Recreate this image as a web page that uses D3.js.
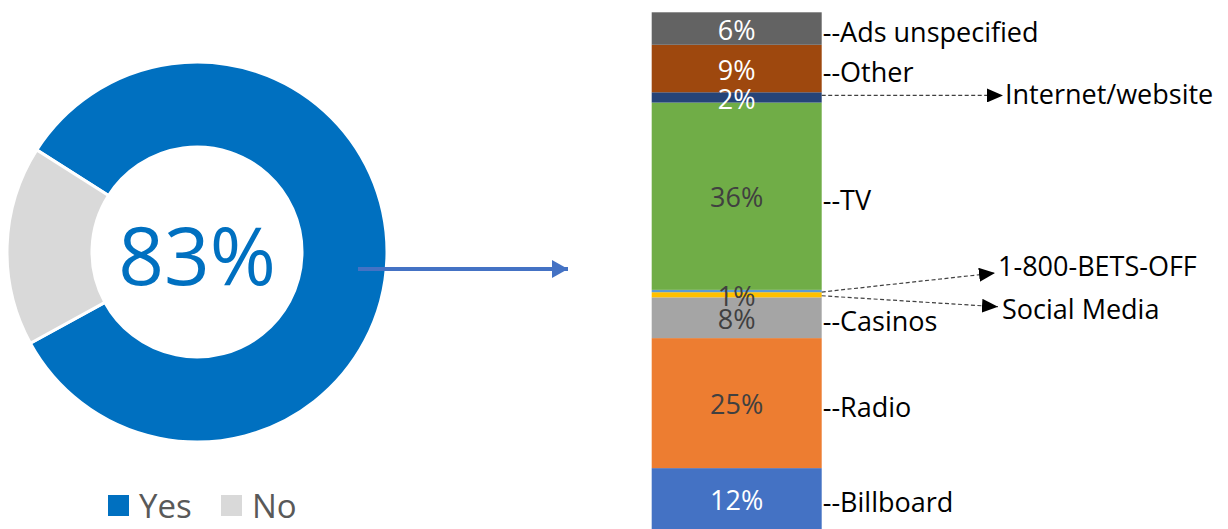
<!DOCTYPE html>
<html>
<head>
<meta charset="utf-8">
<script src="https://cdn.jsdelivr.net/npm/d3@7/dist/d3.min.js"></script>
<style>
  html, body { margin: 0; padding: 0; background: #ffffff; }
  svg { display: block; }
</style>
</head>
<body>
<svg id="chart" width="1228" height="529"></svg>
<script>
// ---------- DATA ----------
const donutCategories = ["Yes", "No"];
const donutValues = [83, 17];
const donutCenterLabel = "83%";

// stacked bar, bottom to top
const barCategories = ["Billboard", "Radio", "Casinos", "Social Media", "1-800-BETS-OFF", "TV", "Internet/website", "Other", "Ads unspecified"];
const barValues = [11.8, 25.2, 7.9, 1.0, 0.45, 36.3, 2.0, 9.2, 6.3];
const barValueLabels = ["12%", "25%", "8%", "1%", "", "36%", "2%", "9%", "6%"];
// "dash" = label written as --Name beside the segment, "arrow" = dashed arrow callout
const barLabelStyle = ["dash", "dash", "dash", "arrow", "arrow", "dash", "arrow", "dash", "dash"];

// ---------- STYLE / LAYOUT ----------
const donutColors = ["#0070C0", "#D9D9D9"];
const barColors = ["#4472C4", "#ED7D31", "#A5A5A5", "#FFC000", "#5B9BD5", "#70AD47", "#264478", "#9E480E", "#636363"];
const barTextColors = ["#ffffff", "#404040", "#404040", "#404040", "#404040", "#404040", "#ffffff", "#ffffff", "#ffffff"];
const fontFamily = "'Open Sans', 'Noto Sans', sans-serif";

const svg = d3.select("#chart");

// ---------- DONUT ----------
const cx = 197, cy = 252, rOuter = 190, rInner = 105;
const startA = -57.5 * Math.PI / 180;
const pie = d3.pie().sort(null).value(d => d).startAngle(startA).endAngle(startA + 2 * Math.PI);
const arc = d3.arc().innerRadius(rInner).outerRadius(rOuter);
const gDonut = svg.append("g").attr("transform", `translate(${cx},${cy})`);
gDonut.selectAll("path")
  .data(pie(donutValues))
  .join("path")
  .attr("d", arc)
  .attr("fill", (d, i) => donutColors[i])
  .attr("stroke", "#ffffff")
  .attr("stroke-width", 3);

gDonut.append("text")
  .attr("x", 0).attr("y", 33)
  .attr("text-anchor", "middle")
  .attr("font-family", fontFamily)
  .attr("font-size", 80)
  .attr("fill", "#0070C0")
  .text(donutCenterLabel);

// legend
const legend = svg.append("g").attr("font-family", fontFamily);
const legendX = [108, 221];
donutCategories.forEach((c, i) => {
  legend.append("rect")
    .attr("x", legendX[i]).attr("y", 495)
    .attr("width", 21).attr("height", 21)
    .attr("fill", donutColors[i]);
  legend.append("text")
    .attr("x", legendX[i] + 31).attr("y", 518)
    .attr("font-size", 33)
    .attr("fill", "#595959")
    .text(c);
});

// arrow markers
const defs = svg.append("defs");
defs.append("marker")
  .attr("id", "bigArrow")
  .attr("viewBox", "0 0 16 18")
  .attr("refX", 16).attr("refY", 9)
  .attr("markerWidth", 16).attr("markerHeight", 18)
  .attr("markerUnits", "userSpaceOnUse")
  .attr("orient", "auto")
  .append("path").attr("d", "M0,0 L16,9 L0,18 Z").attr("fill", "#4472C4");
defs.append("marker")
  .attr("id", "smallArrow")
  .attr("viewBox", "0 0 16 14")
  .attr("refX", 16).attr("refY", 7)
  .attr("markerWidth", 16).attr("markerHeight", 14)
  .attr("markerUnits", "userSpaceOnUse")
  .attr("orient", "auto")
  .append("path").attr("d", "M0,0 L16,7 L0,14 Z").attr("fill", "#000000");

svg.append("line")
  .attr("x1", 358).attr("y1", 269)
  .attr("x2", 568).attr("y2", 269)
  .attr("stroke", "#4472C4")
  .attr("stroke-width", 4)
  .attr("marker-end", "url(#bigArrow)");

// ---------- STACKED BAR ----------
const total = d3.sum(barValues);
const y = d3.scaleLinear().domain([0, total]).range([529, 12.3]);
const x = d3.scaleBand().domain(["all"]).range([651.7, 821.7]).padding(0);

const cum = [];
let acc = 0;
barValues.forEach(v => { cum.push([acc, acc + v]); acc += v; });

const gBar = svg.append("g");
gBar.selectAll("rect")
  .data(barValues)
  .join("rect")
  .attr("x", x("all"))
  .attr("width", x.bandwidth())
  .attr("y", (d, i) => y(cum[i][1]))
  .attr("height", (d, i) => y(cum[i][0]) - y(cum[i][1]))
  .attr("fill", (d, i) => barColors[i]);

const midX = x("all") + x.bandwidth() / 2;
gBar.selectAll("text.val")
  .data(barValues)
  .join("text")
  .attr("class", "val")
  .attr("x", midX)
  .attr("y", (d, i) => (y(cum[i][0]) + y(cum[i][1])) / 2 + 1.5)
  .attr("dy", "0.36em")
  .attr("text-anchor", "middle")
  .attr("font-family", fontFamily)
  .attr("font-size", 27)
  .attr("fill", (d, i) => barTextColors[i])
  .text((d, i) => barValueLabels[i]);

// side labels
const barRight = x("all") + x.bandwidth();
const gLab = svg.append("g").attr("font-family", fontFamily).attr("font-size", 27).attr("fill", "#000000");
barCategories.forEach((c, i) => {
  const cyS = (y(cum[i][0]) + y(cum[i][1])) / 2;
  if (barLabelStyle[i] === "dash") {
    gLab.append("text")
      .attr("x", barRight + 1)
      .attr("y", cyS + 4)
      .attr("dy", "0.36em")
      .text("--" + c);
  }
});

// callouts (layout offsets for the arrow tips and texts)
const callouts = {
  "Internet/website": { tipX: 1003, tipDy: 0, textX: 1005, textDy: 9, startDy: -2 },
  "1-800-BETS-OFF":   { tipX: 995, tipDy: -19, textX: 998, textDy: -16, startDy: 1 },
  "Social Media":     { tipX: 998, tipDy: 11, textX: 1002, textDy: 23, startDy: 1 }
};
barCategories.forEach((c, i) => {
  if (barLabelStyle[i] !== "arrow") return;
  const co = callouts[c];
  const sy = (y(cum[i][0]) + y(cum[i][1])) / 2 + co.startDy;
  svg.append("line")
    .attr("x1", barRight).attr("y1", sy)
    .attr("x2", co.tipX).attr("y2", sy + co.tipDy)
    .attr("stroke", "#404040")
    .attr("stroke-width", 1.2)
    .attr("stroke-dasharray", "4,2.5")
    .attr("marker-end", "url(#smallArrow)");
  gLab.append("text")
    .attr("x", co.textX)
    .attr("y", sy + co.textDy)
    .text(c);
});
</script>
</body>
</html>
